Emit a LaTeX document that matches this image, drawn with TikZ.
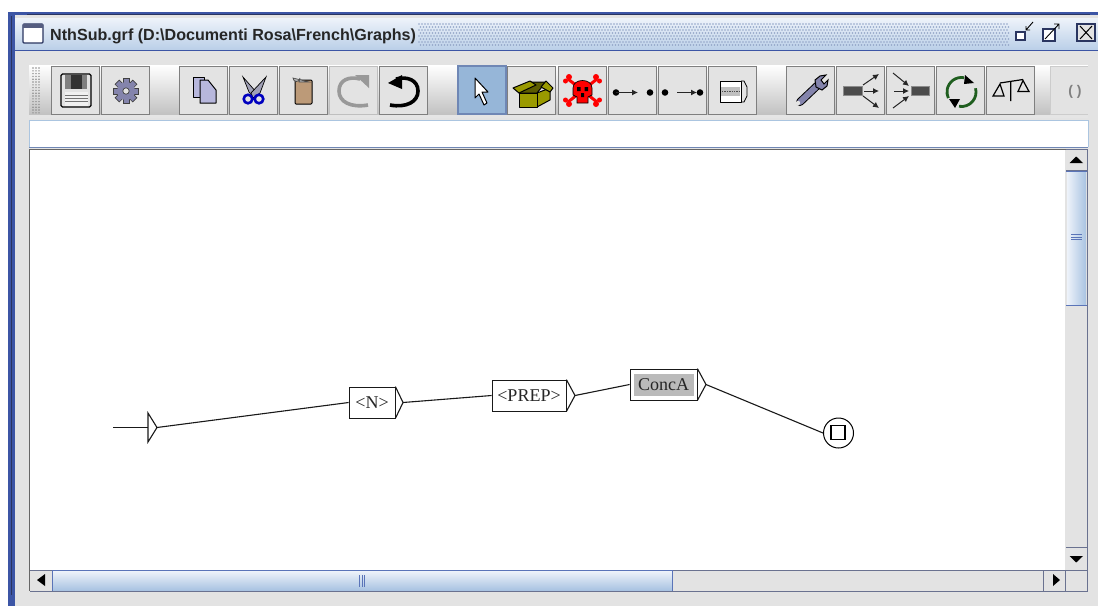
\documentclass[tikz,border=0pt]{standalone}
\usepackage{fontspec}
\setmainfont{Liberation Serif}
\newfontfamily\uifont{Liberation Sans}
\usetikzlibrary{calc,arrows.meta}
\definecolor{winblue}{HTML}{3C55A5}
\definecolor{darkedge}{HTML}{2A3560}
\definecolor{panel}{HTML}{E3E3E3}
\definecolor{barlight}{HTML}{EEF3FA}
\definecolor{barblue}{HTML}{A9C3E2}
\definecolor{framegray}{HTML}{7F7F7F}
\definecolor{iconlav}{HTML}{B7B7DC}
\definecolor{iconsteel}{HTML}{8484AC}
\definecolor{selblue}{HTML}{96B6D8}
\definecolor{olivebox}{HTML}{9A9A00}
\definecolor{edgeblue}{HTML}{6F87B5}
\definecolor{scrollline}{HTML}{5A74B8}
\definecolor{cork}{HTML}{BC9A78}
\definecolor{cyclegreen}{HTML}{1F5E1F}
\tikzset{
  x=1pt,y=-1pt,
  toolbtn/.style={draw=framegray,line width=1pt,fill=panel},
  icon/.style={draw=black,line width=1pt,line join=round},
  fanarrow/.style={draw=black!85,line width=1pt,-{Latex[length=6pt,width=6pt]}},
  gbox/.style={draw=black!90,line width=.8pt,fill=white,rectangle,inner sep=0pt,font=\fontsize{18}{18}\selectfont,text=black!85},
  gline/.style={draw=black!90,line width=1.1pt},
}
\newcommand{\btn}[1]{\draw[toolbtn] (#1,66) rectangle (#1+48,114);}
\newcommand{\titlehatch}{%
  \foreach \i in {0,...,196}{\foreach \j in {0,...,7}{%
    \pgfmathtruncatemacro{\k}{mod(\j,2)}%
    \fill[edgeblue!75] ({419+3*\i+1.5*\k},{24+3*\j}) circle (.8);}}}
\begin{document}
\begin{tikzpicture}
\useasboundingbox (0,0) rectangle (1098,606);
\fill[white] (0,0) rectangle (1098,606);
% window frame
\fill[panel] (8,12) rectangle (1098,606);
\fill[winblue] (8,12) rectangle (1098,15);
\fill[winblue] (8,12) rectangle (15,606);
\draw[darkedge,line width=1pt] (11,16) -- (11,595);
\draw[darkedge,line width=1pt] (27,14.5) -- (1090,14.5);
% title bar
\shade[top color=barlight,bottom color=barblue!80] (15,18) rectangle (1098,50);
\draw[winblue,line width=.8pt] (15,50) -- (1098,50);
\titlehatch
\draw[darkedge,line width=1.2pt,fill=white,rounded corners=1pt] (23,24) rectangle (43,43);
\fill[darkedge!80] (23,24) rectangle (43,28);
\node[anchor=west,inner sep=0pt,font=\uifont\bfseries\fontsize{16.1}{16}\selectfont,text=black!85] (title) at (50,36) {NthSub.grf (D:\textbackslash Documenti Rosa\textbackslash French\textbackslash Graphs)};
% window controls
\draw[darkedge,line width=2pt,fill=white] (1016,32) rectangle (1025,40);
\draw[black,line width=.9pt] (1026,30) -- (1033,22) (1026,26) -- (1026,30) -- (1030,30);
\draw[darkedge,line width=2pt,fill=white] (1043,29) rectangle (1055,41);
\draw[black,line width=.9pt] (1045,39) -- (1059,24) (1054,24) -- (1059,24) -- (1059,29);
\draw[darkedge,line width=2pt,fill=panel] (1077,24) rectangle (1095,41);
\draw[black,line width=1pt] (1080,26) -- (1092,39) (1092,26) -- (1080,39);
% toolbar
\shade[top color=white,bottom color=black!25] (29,65) rectangle (1088,116);
\fill[white!90!black] (29,115) rectangle (1088,118);
\foreach \i in {0,...,16}{\foreach \j in {0,1,2}{
  \fill[black!45] ({33+3*\j},{68+2.8*\i}) circle (.8);}}
\foreach \x in {51,101,179,229,279,379,457,507,558,608,658,708,786,836,886,936,986}{\btn{\x}}
\draw[draw=black!25,line width=1pt,fill=panel] (329,66) rectangle (377,114);
\draw[draw=black!20,line width=1pt,fill=panel] (1050,66) rectangle (1090,114);
\fill[panel] (1088,60) rectangle (1098,120);
\draw[draw=edgeblue,line width=1.1pt,fill=selblue] (458,66) rectangle (506,114);
% save
\draw[icon,fill=panel,rounded corners=1.5pt,line width=1.4pt] (61,74) rectangle (91,107);
\fill[black!50] (65,75) rectangle (87,89);
\fill[black!80] (71,75) rectangle (82,89);
\fill[black!6] (65,92) rectangle (88,106);
\draw[black!55,line width=.7pt] (65,95) -- (88,95) (65,98) -- (88,98) (65,101) -- (88,101);
% gear
\foreach \a in {0,45,90,135}{
  \draw[black!75,line width=.7pt,fill=iconsteel,rotate around={\a:(126,91)}] (123,78.5) rectangle (129,103.5);}
\fill[iconsteel] (126,91) circle (9);
\draw[black!75,line width=.7pt,fill=panel] (126,91) circle (3.2);
% copy
\draw[icon,fill=iconlav] (193,77) rectangle (204,97);
\draw[icon,fill=iconlav] (200,80) -- (208,80) -- (216,90) -- (216,103) -- (200,103) -- cycle;
% cut
\draw[black,line width=.7pt,fill=iconlav!60!gray] (243,77) -- (257,93) -- (254,98) -- (249,92) -- cycle;
\draw[black,line width=.7pt,fill=iconlav!60!gray] (266,77) -- (260,93) -- (253,98) -- (251,93) -- cycle;
\draw[blue!75!black,line width=2.6pt] (248,99) circle (4.3) (259,99) circle (4.3);
% paste
\draw[icon,fill=cork,rounded corners=1pt] (295,80) rectangle (312,104);
\draw[black!70,fill=black!30,line width=.7pt] (299,82) -- (300,78) arc (-180:0:-3.5) -- (309,82) -- cycle;
% redo
\draw[black!40,line width=3.6pt] (360,79) .. controls (349,76) and (339,80) .. (339,91) .. controls (339,102) and (351,108) .. (368,105);
\fill[black!40] (355,75) -- (369,75) -- (369,88) -- cycle;
% undo
\draw[black,line width=3.6pt] (396,79) .. controls (407,76) and (418,80) .. (418,91) .. controls (418,102) and (406,108) .. (390,105);
\fill[black] (388,83) -- (402,75) -- (402,89) -- cycle;
% pointer
\draw[icon,fill=white] (475,78) -- (488,92) -- (482,92) -- (487,103) -- (484,105) -- (479,94) -- (475,98) -- cycle;
% box
\draw[icon,fill=olivebox] (537,93) -- (550,88) -- (550,100) -- (537,107) -- cycle;
\draw[icon,fill=olivebox!60!black] (519,93) -- (530,82) -- (546,82) -- (537,93) -- cycle;
\draw[icon,fill=olivebox] (519,93) rectangle (537,107);
\draw[icon,fill=olivebox] (513,88) -- (530,81) -- (536,85) -- (519,93) -- cycle;
\draw[icon,fill=olivebox] (546,81) -- (553,88) -- (550,92) -- (541,87) -- cycle;
% skull
\draw[red,line width=3pt] (568,79) -- (597,102) (597,79) -- (568,102);
\fill[red] (569,77) circle (3) (565.5,81) circle (2.5) (596,77) circle (3) (599.5,81) circle (2.5) (569,104) circle (3) (565.5,100) circle (2.5) (596,104) circle (3) (599.5,100) circle (2.5);
\draw[black,fill=red,line width=.7pt] (573,88) .. controls (573,78) and (592,78) .. (592,88) -- (592,95) -- (588,97) -- (588,103) -- (577,103) -- (577,97) -- (573,95) -- cycle;
\fill[black] (577,87) rectangle (580.5,91) (584.5,87) rectangle (588,91) (581,93) rectangle (584,97);
% link icons
\fill[black] (616,92.5) circle (3.3) (650,92.5) circle (3.3) (665,92.5) circle (3.3) (700,92.5) circle (3.3);
\draw[fanarrow] (616,92.5) -- (638,92.5);
\draw[fanarrow] (677,92.5) -- (697,92.5);
% comment box
\draw[icon,fill=white] (720,81) rectangle (741,102);
\fill[black!25] (721,87) rectangle (740,96);
\draw[black!70,line width=1pt,dash pattern=on 1.4pt off 1pt] (722,91) -- (740,91);
\draw[black,line width=.8pt] (741,81) -- (744,81) -- (747,87) -- (747,96) -- (744,102) -- (741,102);
% wrench
\draw[black,line width=8pt,line cap=round] (800,102) -- (819,84);
\draw[iconsteel,line width=6pt,line cap=round] (800,102) -- (819,84);
\draw[black,line width=1pt,fill=iconsteel] (816,87) -- (815,80) -- (820,76) -- (826,75) -- (821,80) -- (824,84) -- (828,80) -- (827,86) -- (822,90) -- cycle;
\fill[panel] (798,103) circle (2.2);
% split
\draw[black!45,fill=black!70,line width=.8pt] (843,86) rectangle (862,95);
\draw[fanarrow] (863,85) -- (879,74);
\draw[fanarrow] (864,91) -- (879,91);
\draw[fanarrow] (863,96) -- (879,108);
% merge
\draw[black!45,fill=black!70,line width=.8pt] (911,86) rectangle (929,95);
\draw[fanarrow] (893,73) -- (909,86);
\draw[fanarrow] (894,91) -- (909,91);
\draw[fanarrow] (893,108) -- (909,96);
% cycle
\draw[cyclegreen,line width=2.8pt] (964,77.7) arc (-80:-205:14.5);
\draw[cyclegreen,line width=2.8pt] (959,106.3) arc (-260:-375:14.5);
\fill[black] (965,75) -- (974,83) -- (964,84) -- cycle (949,99) -- (960,99) -- (955,108) -- cycle;
% balance
\draw[black,line width=1.2pt] (1000,83) -- (1023,79.5) (1010.7,81) -- (1010.7,101);
\draw[black,line width=1.2pt] (993,96) -- (1000,84) -- (1004,96) -- cycle (1018,91.5) -- (1023,80.5) -- (1029,91.5) -- cycle;
\node[inner sep=0pt,font=\uifont\bfseries\fontsize{14}{14}\selectfont,text=black!50] (parens) at (1075,92) {( )};
% text field
\fill[white] (29,120) rectangle (1088,147);
\draw[selblue!80!white,line width=.8pt] (29,147) -- (29,120) -- (1088,120) -- (1088,147);
\draw[edgeblue,line width=1pt] (29,147.5) -- (1088,147.5);
% canvas
\fill[white] (30,149) rectangle (1065,570);
\draw[black!60,line width=1pt] (29.5,149) -- (29.5,591);
\draw[black!60,line width=.6pt] (29,149) -- (1066,149);
% vertical scrollbar
\fill[panel] (1066,149) rectangle (1087,591);
\draw[darkedge!70,line width=1pt] (1066,149) -- (1087,149) -- (1087,591) -- (30,591);
\draw[darkedge!70,line width=.8pt] (1066,170) -- (1087,170) (1066,547) -- (1087,547) (1066,570) -- (1087,570);
\shade[left color=barlight,right color=barblue] (1067,171) rectangle (1086,305);
\draw[scrollline,line width=1pt] (1066,171) -- (1087,171) (1066,305) -- (1087,305);
\draw[scrollline,line width=.7pt] (1071,234.5) -- (1082,234.5) (1071,237) -- (1082,237) (1071,239.5) -- (1082,239.5);
\fill[black] (1069.5,163) -- (1083,163) -- (1076.2,156.5) -- cycle;
\fill[black] (1069.5,556) -- (1083,556) -- (1076.2,562.5) -- cycle;
% horizontal scrollbar
\fill[panel] (30,571) rectangle (1066,591);
\draw[darkedge!70,line width=1pt] (30,570.3) -- (1066,570.3);
\shade[top color=barlight,bottom color=barblue] (52,571) rectangle (672,590);
\draw[scrollline,line width=1pt] (52,570.5) -- (672,570.5) (672,570) -- (672,591) (52,570) -- (52,591);
\draw[scrollline,line width=.7pt] (359,575) -- (359,587) (362,575) -- (362,587) (364.5,575) -- (364.5,587);
\draw[darkedge!70,line width=.8pt] (1043,570) -- (1043,591) (1065.5,570) -- (1065.5,591);
\fill[black] (45,574) -- (45,586) -- (37,580) -- cycle;
\fill[black] (1053,574) -- (1053,586) -- (1060,580) -- cycle;
% graph
\coordinate (entry) at (113,427.5);
\coordinate (inittip) at (157,427.5);
\coordinate (initbase) at (148,427.5);
\draw[gline] (148,413) -- (157,427.5) -- (148,442) -- cycle;
\node[gbox,minimum width=46pt,minimum height=31pt] (nbox) at (372,402.5) {<N>};
\node[gbox,minimum width=74pt,minimum height=31pt] (prep) at (529,395.5) {<PREP>};
\node[gbox,minimum width=67pt,minimum height=31pt,path picture={\fill[black!27] ($(path picture bounding box.south west)+(4,-4)$) rectangle ($(path picture bounding box.north east)+(-3,5)$);}] (conca) at (663.5,384.5) {ConcA};
\coordinate (ntip) at (403,402.5);
\coordinate (ptip) at (575,395.5);
\coordinate (ctip) at (706,384.5);
\draw[gline] (nbox.north east) -- (ntip) -- (nbox.south east);
\draw[gline] (prep.north east) -- (ptip) -- (prep.south east);
\draw[gline] (conca.north east) -- (ctip) -- (conca.south east);
\node[draw=black,line width=1pt,circle,fill=white,minimum size=30pt,inner sep=0pt] (final) at (838.5,433) {};
\node[draw=black,line width=1.1pt,rectangle,minimum size=14pt,inner sep=0pt] (finalsq) at (838,432.5) {};
\draw[gline] (entry) -- (initbase);
\draw[gline] (inittip) -- (nbox.west);
\draw[gline] (ntip) -- (prep.west);
\draw[gline] (ptip) -- (conca.west);
\draw[gline] (ctip) -- (final.west);
\end{tikzpicture}
\end{document}
